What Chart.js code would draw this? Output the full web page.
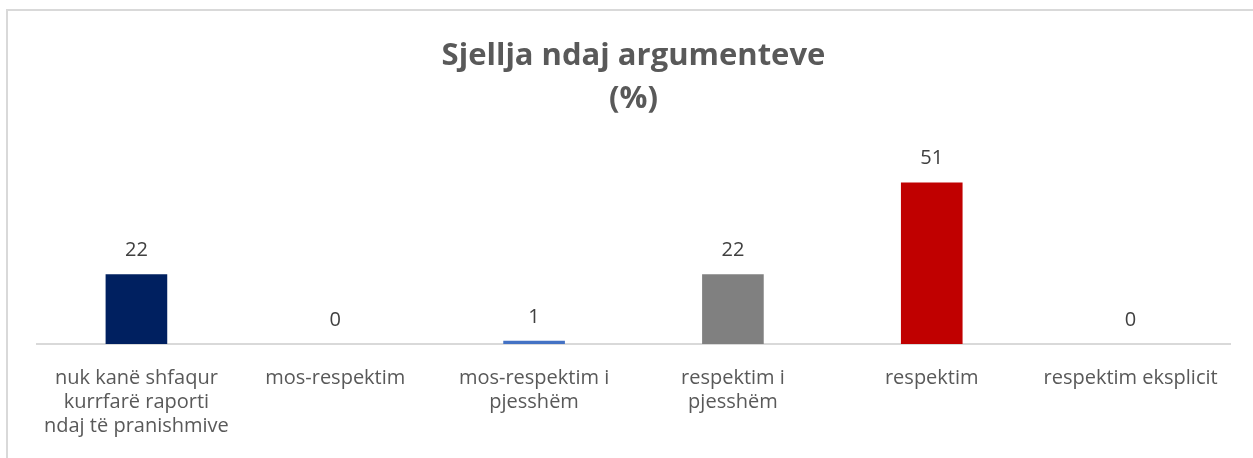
<!DOCTYPE html>
<html lang="sq">
<head>
    <meta charset="UTF-8">
    <title>Sjellja ndaj argumenteve</title>
    <script src="https://cdn.jsdelivr.net/npm/chart.js"></script>
    <style>
        body {
            margin: 0;
            background: #ffffff;
            font-family: "Open Sans", sans-serif;
        }

        .frame {
            position: absolute;
            left: 6px;
            top: 9px;
            width: 1300px;
            height: 500px;
            border-left: 2px solid #d9d9d9;
            border-top: 2px solid #d9d9d9;
        }

        .chart-container {
            position: absolute;
            left: 0;
            top: 0;
            width: 1253px;
            height: 458px;
        }
    </style>
</head>
<body>

    <div class="frame"></div>
    <div class="chart-container">
        <canvas id="chart"></canvas>
    </div>

    <script>
        // data
        const categories = [
            ['nuk kanë shfaqur', 'kurrfarë raporti', 'ndaj të pranishmive'],
            'mos-respektim',
            ['mos-respektim i', 'pjesshëm'],
            ['respektim i', 'pjesshëm'],
            'respektim',
            'respektim eksplicit'
        ];
        const values = [22, 0, 1, 22, 51, 0];
        const barColors = ['#002060', '#4472c4', '#4472c4', '#808080', '#c00000', '#4472c4'];

        // draws the number above each bar
        const valueLabels = {
            id: 'valueLabels',
            afterDatasetsDraw(chart) {
                const ctx = chart.ctx;
                const meta = chart.getDatasetMeta(0);
                ctx.save();
                ctx.font = '20px "Open Sans", sans-serif';
                ctx.fillStyle = '#404040';
                ctx.textAlign = 'center';
                ctx.textBaseline = 'middle';
                meta.data.forEach((bar, i) => {
                    ctx.fillText(String(values[i]), bar.x, bar.y - 24);
                });
                ctx.restore();
            }
        };

        new Chart(document.getElementById('chart'), {
            type: 'bar',
            data: {
                labels: categories,
                datasets: [{
                    data: values,
                    backgroundColor: barColors,
                    categoryPercentage: 1,
                    barPercentage: 0.31
                }]
            },
            options: {
                responsive: true,
                maintainAspectRatio: false,
                animation: false,
                layout: {
                    padding: { left: 37, right: 23, top: 0, bottom: 6 }
                },
                scales: {
                    y: {
                        display: false,
                        min: 0,
                        max: 60
                    },
                    x: {
                        grid: { display: false },
                        border: { display: true, color: '#d9d9d9', width: 2 },
                        ticks: {
                            color: '#595959',
                            font: { family: '"Open Sans", sans-serif', size: 20, lineHeight: 1.2 },
                            padding: 14,
                            maxRotation: 0,
                            autoSkip: false
                        }
                    }
                },
                plugins: {
                    legend: { display: false },
                    tooltip: { enabled: false },
                    title: {
                        display: true,
                        text: ['Sjellja ndaj argumenteve', '(%)'],
                        color: '#595959',
                        font: { family: '"Open Sans", sans-serif', size: 31, weight: 'bold', lineHeight: 1.387 },
                        padding: { top: 35, bottom: 33 }
                    }
                }
            },
            plugins: [valueLabels]
        });
    </script>

</body>
</html>
